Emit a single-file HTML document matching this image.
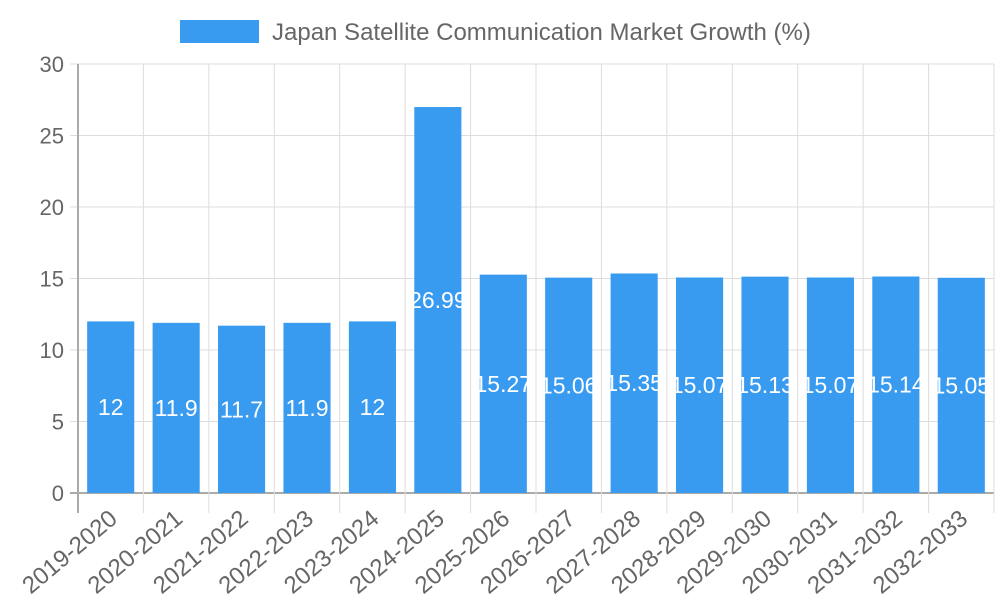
<!DOCTYPE html>
<html><head><meta charset="utf-8"><style>
body{margin:0;background:#fff;font-family:"Liberation Sans",sans-serif;}
svg text{font-family:"Liberation Sans",sans-serif;}
</style></head><body>
<svg id="chart" width="1000" height="600">
<rect x="180" y="20" width="79" height="23" fill="#399bf0"/>
<text x="272" y="40" font-size="24" fill="#666">Japan Satellite Communication Market Growth (%)</text>
<g id="grid"></g><g id="bars"></g><g id="labels"></g>
</svg>
<script>
const categories=["2019-2020","2020-2021","2021-2022","2022-2023","2023-2024","2024-2025","2025-2026","2026-2027","2027-2028","2028-2029","2029-2030","2030-2031","2031-2032","2032-2033"];
const values=[12,11.9,11.7,11.9,12,26.99,15.27,15.06,15.35,15.07,15.13,15.07,15.14,15.05];
const yTicks=[0,5,10,15,20,25,30];
const NS="http://www.w3.org/2000/svg";
const L=78,R=994,T=64,B=493,yMax=30;
const bw=(R-L)/categories.length;
const y=v=>B-(v/yMax)*(B-T);
const xc=i=>L+bw*(i+0.5);
function mk(t,a,p){const e=document.createElementNS(NS,t);for(const k in a)e.setAttribute(k,a[k]);p.appendChild(e);return e;}
const g=document.getElementById('grid'),bg=document.getElementById('bars'),lg=document.getElementById('labels');
yTicks.forEach(v=>{
 const ln=mk('line',{x1:L-8,x2:R,y1:y(v),y2:y(v),stroke:v===0?'#aaa':'#ddd','stroke-width':v===0?2:1},g);
 
 
 const t=mk('text',{x:L-14,y:y(v)+8,'text-anchor':'end','font-size':22,fill:'#666'},g);
 t.textContent=v;
 
 
});
for(let i=0;i<=categories.length;i++){
 const x=L+bw*i;
 const ln=mk('line',{x1:x,x2:x,y1:T,y2:B+20,stroke:i===0?'#aaa':'#ddd','stroke-width':i===0?2:1},g);
 
 
}
categories.forEach((c,i)=>{
 const w=bw*0.72;
 const r=mk('rect',{x:xc(i)-w/2,y:y(values[i]),width:w,height:B-y(values[i]),fill:'#399bf0'},bg);
 
 
 const t=mk('text',{x:xc(i),y:(y(values[i])+B)/2+8,'text-anchor':'middle','font-size':23,fill:'#fff'},lg);
 t.textContent=values[i];
 
 
 const xl=mk('text',{x:0,y:0,'text-anchor':'end','font-size':24,fill:'#666',transform:`translate(${xc(i)+8},${B+28}) rotate(-40)`},lg);
 xl.textContent=c;
 
 
});
</script>
</body></html>
